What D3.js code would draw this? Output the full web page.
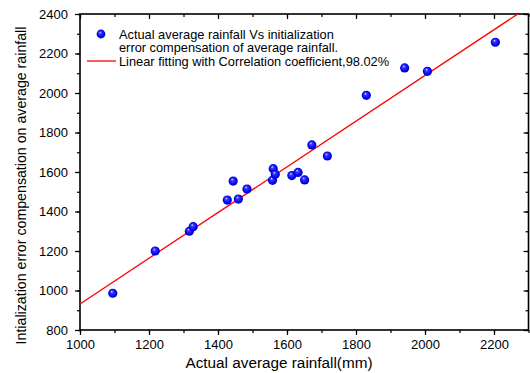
<!DOCTYPE html>
<html><head><meta charset="utf-8">
<script src="https://cdn.jsdelivr.net/npm/d3@7"></script>
<style>body{margin:0;background:#fff}svg{display:block}text{font-family:"Liberation Sans",Arial,sans-serif;fill:#000}</style>
</head><body>
<script>
const actual = [1095,1218,1317,1328,1427,1444,1459,1484,1558,1560,1566,1614,1632,1651,1672,1717,1830,1941,2007,2204];
const compensated = [986,1200,1300,1323,1458,1554,1463,1514,1558,1617,1588,1582,1598,1560,1737,1681,1988,2127,2110,2257];
const fitX = [1000,2300];
const fitY = [932,2436];
const xTicks = [1000,1200,1400,1600,1800,2000,2200];
const yTicks = [800,1000,1200,1400,1600,1800,2000,2200,2400];
const legendLabels = ["Actual average rainfall Vs initialization","error compensation of average rainfall.","Linear fitting with Correlation coefficient,98.02%"];

const W=530,H=373, L=80,R=528.5,T=14,B=330;
const svg=d3.select("body").append("svg").attr("width",W).attr("height",H);
const x=d3.scaleLinear().domain([1000,2300]).range([L,R]);
const y=d3.scaleLinear().domain([800,2400]).range([B,T]);

const defs=svg.append("defs");
const g=defs.append("radialGradient").attr("id","ball").attr("cx","0.5").attr("cy","0.5").attr("r","0.55").attr("fx","0.38").attr("fy","0.3");
g.append("stop").attr("offset","0").attr("stop-color","#e8e8ff");
g.append("stop").attr("offset","0.25").attr("stop-color","#3a3aff");
g.append("stop").attr("offset","0.75").attr("stop-color","#0000f0");
g.append("stop").attr("offset","1").attr("stop-color","#0000a0");
defs.append("clipPath").attr("id","clip").append("rect").attr("x",L).attr("y",T).attr("width",R-L).attr("height",B-T);

const minorX=d3.range(1000,2301,100), minorY=d3.range(800,2401,100);
// bottom axis
svg.append("g").attr("transform",`translate(0,${B})`)
  .call(d3.axisBottom(x).tickValues(minorX).tickSize(3).tickFormat(""))
  .call(a=>a.select(".domain").remove());
svg.append("g").attr("transform",`translate(0,${B})`)
  .call(d3.axisBottom(x).tickValues(xTicks).tickSize(5).tickPadding(5).tickFormat(d3.format("d")))
  .call(a=>a.select(".domain").remove())
  .call(a=>a.selectAll("text").attr("font-size",13).style("font-family","Liberation Sans, Arial"));
// top axis (inward)
svg.append("g").attr("transform",`translate(0,${T})`)
  .call(d3.axisBottom(x).tickValues(minorX).tickSize(3).tickFormat(""))
  .call(a=>a.select(".domain").remove());
svg.append("g").attr("transform",`translate(0,${T})`)
  .call(d3.axisBottom(x).tickValues(xTicks).tickSize(5).tickFormat(""))
  .call(a=>a.select(".domain").remove());
// left axis
svg.append("g").attr("transform",`translate(${L},0)`)
  .call(d3.axisLeft(y).tickValues(minorY).tickSize(3).tickFormat(""))
  .call(a=>a.select(".domain").remove());
svg.append("g").attr("transform",`translate(${L},0)`)
  .call(d3.axisLeft(y).tickValues(yTicks).tickSize(5).tickPadding(7).tickFormat(d3.format("d")))
  .call(a=>a.select(".domain").remove())
  .call(a=>a.selectAll("text").attr("font-size",13).style("font-family","Liberation Sans, Arial"));
// right axis inward
svg.append("g").attr("transform",`translate(${R},0)`)
  .call(d3.axisLeft(y).tickValues(minorY).tickSize(3).tickFormat(""))
  .call(a=>a.select(".domain").remove());
svg.append("g").attr("transform",`translate(${R},0)`)
  .call(d3.axisLeft(y).tickValues(yTicks).tickSize(5).tickFormat(""))
  .call(a=>a.select(".domain").remove());
svg.selectAll(".tick line").attr("stroke","#000").attr("stroke-width",1.2);
svg.append("rect").attr("x",L).attr("y",T).attr("width",R-L).attr("height",B-T)
  .attr("fill","none").attr("stroke","#000").attr("stroke-width",1.6);

// fit line
svg.append("line").attr("clip-path","url(#clip)")
  .attr("x1",x(fitX[0])).attr("y1",y(fitY[0])).attr("x2",x(fitX[1])).attr("y2",y(fitY[1]))
  .attr("stroke","#ff0000").attr("stroke-width",1.3);

// points
svg.append("g").selectAll("circle").data(actual).join("circle")
  .attr("cx",d=>x(d)).attr("cy",(d,i)=>y(compensated[i])).attr("r",4.6)
  .attr("fill","url(#ball)");

// axis titles
svg.append("text").attr("x",279).attr("y",368).attr("text-anchor","middle").attr("font-size",15.3)
  .text("Actual average rainfall(mm)");
svg.append("text").attr("transform",`translate(26,185.5) rotate(-90)`).attr("text-anchor","middle").attr("font-size",14.2)
  .text("Intialization error compensation on average rainfall");

// legend
const lg=svg.append("g");
lg.append("circle").attr("cx",101).attr("cy",34).attr("r",4.4).attr("fill","url(#ball)");
lg.append("line").attr("x1",87).attr("x2",116).attr("y1",61).attr("y2",61).attr("stroke","#ff0000").attr("stroke-width",1.3);
legendLabels.forEach((t,i)=>{
  lg.append("text").attr("x",119).attr("y",38.5+i*13.5).attr("font-size",12.8).text(t);
});
</script>
</body></html>
